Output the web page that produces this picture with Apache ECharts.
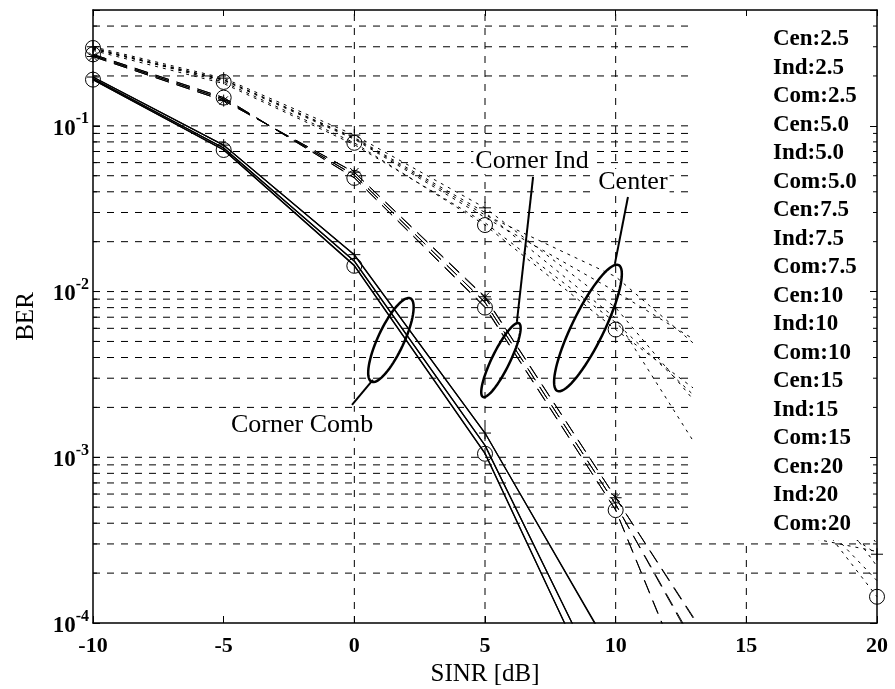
<!DOCTYPE html>
<html>
<head>
<meta charset="utf-8">
<script src="https://cdn.jsdelivr.net/npm/echarts@6/dist/echarts.min.js"></script>
<style>
html, body { margin: 0; padding: 0; background: #fff; }
#ber { width: 895px; height: 689px; }
</style>
</head>
<body>
<div id="ber"></div>
<script>
// SINR points (dB)
var sinr = [-10, -5, 0, 5, 10, 15, 20];

// Center (dotted)
var cen25 = [0.295, 0.184, 0.079, 0.0252, 0.0059, 0.0015, 0.000144];
var cen50 = [0.30, 0.194, 0.088, 0.032, 0.0080, 0.00093, 0.00026];
var cen75 = [0.295, 0.190, 0.085, 0.030, 0.0069, 0.00039, 0.00027];
var cen10 = [0.29, 0.188, 0.083, 0.028, 0.0100, 0.0033, 0.00030];
var cen15 = [0.285, 0.180, 0.077, 0.026, 0.0065, 0.0012, 0.00018];
var cen20 = [0.29, 0.190, 0.084, 0.029, 0.0123, 0.0026, 0.00022];

// Corner independent (dashed)
var ind25 = [0.27, 0.148, 0.0485, 0.0080, 0.00048, 0.0000056, null];
var ind50 = [0.262, 0.142, 0.0525, 0.0093, 0.00057, 0.000035, null];
var ind75 = [0.266, 0.145, 0.0505, 0.0086, 0.00052, 0.000020, null];
var ind10 = [0.27, 0.148, 0.0487, 0.0081, 0.00048, 0.0000058, null];
var ind15 = [0.262, 0.142, 0.0523, 0.0092, 0.00057, 0.000034, null];
var ind20 = [0.266, 0.145, 0.0503, 0.0086, 0.00052, 0.000021, null];

// Corner combined (solid)
var com25 = [0.19, 0.0715, 0.0143, 0.00105, 0.000022, null, null];
var com50 = [0.197, 0.0765, 0.0167, 0.0014, 0.000061, null, null];
var com75 = [0.193, 0.0735, 0.0152, 0.00118, 0.000029, null, null];
var com10 = [0.19, 0.0717, 0.0144, 0.00106, 0.000022, null, null];
var com15 = [0.197, 0.0763, 0.0166, 0.0014, 0.000060, null, null];
var com20 = [0.193, 0.0735, 0.0153, 0.00118, 0.000029, null, null];

var xTicks = [-10, -5, 0, 5, 10, 15, 20];
var vGrid = [0, 5, 10, 15];
var decades = [1e-4, 1e-3, 1e-2, 1e-1];

var FONT = 'Liberation Serif';
var xMin = -10, xMax = 20, yMin = 1e-4, yMax = 0.5;

var PLUS = 'path://M5,0L5,10M0,5L10,5';
var STAR = 'path://M5,0L5,10M0,5L10,5M1.5,1.5L8.5,8.5M8.5,1.5L1.5,8.5';

var curves = [
	{name: 'Cen:2.5', data: cen25, kind: 'cen', mark: 'circle'},
	{name: 'Ind:2.5', data: ind25, kind: 'ind', mark: 'circle'},
	{name: 'Com:2.5', data: com25, kind: 'com', mark: 'circle'},
	{name: 'Cen:5.0', data: cen50, kind: 'cen', mark: PLUS},
	{name: 'Ind:5.0', data: ind50, kind: 'ind', mark: STAR},
	{name: 'Com:5.0', data: com50, kind: 'com', mark: PLUS},
	{name: 'Cen:7.5', data: cen75, kind: 'cen'},
	{name: 'Ind:7.5', data: ind75, kind: 'ind'},
	{name: 'Com:7.5', data: com75, kind: 'com'},
	{name: 'Cen:10', data: cen10, kind: 'cen'},
	{name: 'Ind:10', data: ind10, kind: 'ind'},
	{name: 'Com:10', data: com10, kind: 'com'},
	{name: 'Cen:15', data: cen15, kind: 'cen'},
	{name: 'Ind:15', data: ind15, kind: 'ind'},
	{name: 'Com:15', data: com15, kind: 'com'},
	{name: 'Cen:20', data: cen20, kind: 'cen'},
	{name: 'Ind:20', data: ind20, kind: 'ind'},
	{name: 'Com:20', data: com20, kind: 'com'}
];

var dashes = {cen: [3, 5], ind: [14, 8], com: 'solid'};

// grid lines: [x, y, 0=horizontal / 1=vertical]
var gridData = [];
var minorData = [];
decades.forEach(function (d) {
	if (d > yMin) gridData.push([xMin, d, 0]);
	for (var k = 2; k <= 9; k++) {
		var v = +(d * k).toPrecision(3);
		if (v < yMax) {
			gridData.push([xMin, v, 0]);
			minorData.push([xMin, v]);
		}
	}
});
vGrid.forEach(function (x) { gridData.push([x, 1e-3, 1]); });

var chart = echarts.init(document.getElementById('ber'));

var series = curves.map(function (c) {
	return {
		name: c.name,
		type: 'line',
		data: sinr.map(function (x, i) { return [x, c.data[i]]; }),
		symbol: c.mark || 'none',
		symbolSize: c.mark === 'circle' ? 15 : 12,
		showSymbol: !!c.mark,
		lineStyle: {color: '#000', width: c.kind === 'com' ? 1.2 : 1, type: dashes[c.kind]},
		itemStyle: {color: 'transparent', borderColor: '#000', borderWidth: 1},
		z: 5,
		silent: true
	};
});

series.unshift({
	type: 'custom',
	name: 'grid',
	data: gridData,
	z: 1,
	silent: true,
	renderItem: function (params, api) {
		var a, b;
		if (api.value(2) === 1) {
			a = api.coord([api.value(0), yMin]);
			b = api.coord([api.value(0), yMax]);
		} else {
			a = api.coord([xMin, api.value(1)]);
			b = api.coord([xMax, api.value(1)]);
		}
		return {
			type: 'line',
			shape: {x1: a[0], y1: a[1], x2: b[0], y2: b[1]},
			style: {stroke: '#000', lineWidth: 1, lineDash: [7, 7]}
		};
	}
});

series.push({
	type: 'custom',
	name: 'minorTicks',
	data: minorData,
	z: 150,
	silent: true,
	renderItem: function (params, api) {
		var a = api.coord([xMin, api.value(1)]);
		var b = api.coord([xMax, api.value(1)]);
		return {
			type: 'group',
			children: [
				{type: 'line', shape: {x1: a[0], y1: a[1], x2: a[0] + 4, y2: a[1]}, style: {stroke: '#000', lineWidth: 1}},
				{type: 'line', shape: {x1: b[0] - 4, y1: b[1], x2: b[0], y2: b[1]}, style: {stroke: '#000', lineWidth: 1}}
			]
		};
	}
});

function yLabel(v) {
	var e = Math.log(v) / Math.LN10;
	if (Math.abs(e - Math.round(e)) > 1e-6) return '';
	return '{b|10}{s|' + Math.round(e) + '}';
}

var axisLine = {show: true, onZero: false, lineStyle: {color: '#000', width: 1.5}};

chart.setOption({
	animation: false,
	backgroundColor: '#fff',
	grid: {left: 93, top: 10, width: 784, height: 613, outerBoundsMode: 'none'},
	legend: {
		data: curves.map(function (c) { return c.name; }),
		orient: 'vertical',
		left: 762,
		top: 20,
		itemGap: 0,
		itemWidth: 0,
		itemHeight: 0,
		selectedMode: false,
		z: 110,
		itemStyle: {opacity: 0},
		lineStyle: {opacity: 0},
		textStyle: {fontFamily: FONT, fontSize: 23, fontWeight: 'bold', color: '#000', lineHeight: 28.5}
	},
	xAxis: [{
		type: 'value', min: xMin, max: xMax, interval: 5, position: 'bottom', z: 200,
		name: 'SINR [dB]', nameLocation: 'middle', nameGap: 33,
		nameTextStyle: {fontFamily: FONT, fontSize: 25, color: '#000'},
		axisLine: axisLine,
		axisTick: {inside: true, length: 7, lineStyle: {color: '#000'}},
		axisLabel: {fontFamily: FONT, fontSize: 22, fontWeight: 'bold', color: '#000', margin: 12},
		splitLine: {show: false}
	}, {
		type: 'value', min: xMin, max: xMax, interval: 5, position: 'top', z: 200,
		axisLine: axisLine,
		axisTick: {inside: true, length: 6, lineStyle: {color: '#000'}},
		axisLabel: {show: false},
		splitLine: {show: false}
	}],
	yAxis: [{
		type: 'log', min: yMin, max: yMax, position: 'left', z: 200,
		name: 'BER', nameLocation: 'middle', nameGap: 54, nameRotate: 90,
		nameTextStyle: {fontFamily: FONT, fontSize: 25, color: '#000'},
		axisLine: axisLine,
		axisTick: {inside: true, length: 7, lineStyle: {color: '#000'}},
		axisLabel: {
			margin: 4,
			formatter: yLabel,
			rich: {
				b: {fontFamily: FONT, fontSize: 23, fontWeight: 'bold', color: '#000', padding: [6, 0, 0, 0], verticalAlign: 'bottom'},
				s: {fontFamily: FONT, fontSize: 16, fontWeight: 'bold', color: '#000', verticalAlign: 'top'}
			}
		},
		splitLine: {show: false}
	}, {
		type: 'log', min: yMin, max: yMax, position: 'right', z: 200,
		axisLine: axisLine,
		axisTick: {inside: true, length: 7, lineStyle: {color: '#000'}},
		axisLabel: {show: false},
		splitLine: {show: false}
	}],
	series: series
});

// annotations placed in data coordinates
var notes = [
	{text: 'Corner Comb', at: [-2.0, 0.00157], from: [-0.09, 0.00207], to: [0.71, 0.00293], ell: [1.40, 0.0051], a: 46, b: 13, ang: 65},
	{text: 'Corner Ind', at: [6.80, 0.0614], from: [6.84, 0.0492], to: [6.22, 0.00656], ell: [5.61, 0.00386], a: 41, b: 9, ang: 64},
	{text: 'Center', at: [10.66, 0.0458], from: [10.47, 0.0372], to: [9.97, 0.0147], ell: [8.94, 0.00603], a: 70, b: 16, ang: 64}
];

function px(p) { return chart.convertToPixel({gridIndex: 0}, p); }

var graphics = [{
	type: 'rect', z: 100, silent: true,
	shape: {x: 693, y: 11, width: 183, height: 529},
	style: {fill: '#fff'}
}];

notes.forEach(function (n) {
	var c = px(n.ell), t = px(n.at), f = px(n.from), e = px(n.to);
	var th = n.ang * Math.PI / 180;
	var ux = Math.cos(th), uy = -Math.sin(th), vx = Math.sin(th), vy = Math.cos(th);
	var pts = [];
	for (var i = 0; i < 72; i++) {
		var k = i / 72 * Math.PI * 2;
		pts.push([c[0] + n.a * Math.cos(k) * ux + n.b * Math.sin(k) * vx,
			c[1] + n.a * Math.cos(k) * uy + n.b * Math.sin(k) * vy]);
	}
	graphics.push({type: 'polygon', z: 120, silent: true, shape: {points: pts},
		style: {fill: 'none', stroke: '#000', lineWidth: 2.5}});
	graphics.push({type: 'line', z: 120, silent: true,
		shape: {x1: f[0], y1: f[1], x2: e[0], y2: e[1]},
		style: {stroke: '#000', lineWidth: 2}});
	graphics.push({type: 'text', z: 121, silent: true, x: t[0], y: t[1],
		style: {text: n.text, font: '26px "Liberation Serif"', fill: '#000',
			textAlign: 'center', textVerticalAlign: 'middle', backgroundColor: '#fff', padding: [0, 2]}});
});

chart.setOption({graphic: graphics});
</script>
</body>
</html>
